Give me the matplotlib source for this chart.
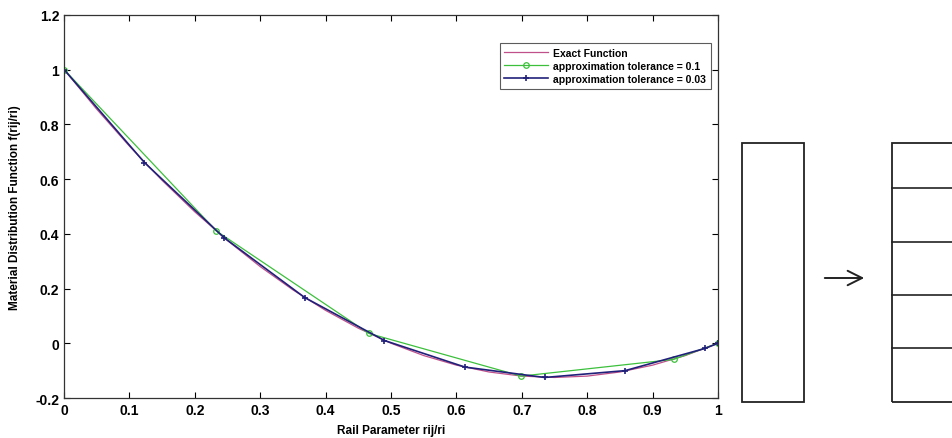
import matplotlib
matplotlib.use("Agg")
import matplotlib.pyplot as plt
from matplotlib.patches import Rectangle, FancyArrowPatch
from matplotlib.ticker import FuncFormatter

plt.rcParams['font.family'] = ['Liberation Sans', 'DejaVu Sans']
plt.rcParams['font.weight'] = 'bold'

# exact function
exact_x = [0.0, 0.05, 0.1, 0.15, 0.2, 0.25, 0.3, 0.35, 0.4, 0.45, 0.5,
           0.55, 0.6, 0.65, 0.7, 0.75, 0.8, 0.85, 0.9, 0.95, 1.0]
exact_y = [1.0, 0.855, 0.72, 0.595, 0.48, 0.375, 0.28, 0.195, 0.12, 0.055, 0.0,
           -0.045, -0.08, -0.105, -0.12, -0.125, -0.12, -0.105, -0.08, -0.045, 0.0]

# tolerance 0.1
tol1_x = [0.0, 0.233, 0.466, 0.699, 0.932, 1.0]
tol1_y = [1.0, 0.41, 0.036, -0.12, -0.059, 0.0]

# tolerance 0.03
tol2_x = [0.0, 0.123, 0.245, 0.368, 0.49, 0.613, 0.735, 0.858, 0.98, 1.0]
tol2_y = [1.0, 0.66, 0.385, 0.167, 0.01, -0.087, -0.125, -0.10, -0.019, 0.0]

fig = plt.figure(figsize=(9.53, 4.39), dpi=100)
ax = fig.add_axes([0.0672, 0.0911, 0.6862, 0.873])

ax.plot(exact_x, exact_y, color='#c0508a', lw=0.9, label='Exact Function')
ax.plot(tol1_x, tol1_y, color='#3cc03c', lw=0.9, marker='o', ms=4,
        mfc='none', mew=0.9, label='approximation tolerance = 0.1')
ax.plot(tol2_x, tol2_y, color='#20207a', lw=1.2, marker='+', ms=5,
        mew=1.2, label='approximation tolerance = 0.03')

ax.set_xlim(0, 1)
ax.set_ylim(-0.2, 1.2)
ax.set_xticks([0, 0.1, 0.2, 0.3, 0.4, 0.5, 0.6, 0.7, 0.8, 0.9, 1])
ax.set_yticks([-0.2, 0, 0.2, 0.4, 0.6, 0.8, 1, 1.2])
ax.xaxis.set_major_formatter(FuncFormatter(lambda v, p: '%g' % round(v, 2)))
ax.yaxis.set_major_formatter(FuncFormatter(lambda v, p: '%g' % round(v, 2)))
ax.tick_params(direction='in', top=True, right=True, length=4, width=0.8,
               labelsize=10)
for s in ax.spines.values():
    s.set_linewidth(0.9)
    s.set_color('#333333')

ax.set_xlabel('Rail Parameter rij/ri', fontsize=8.5, fontweight='bold', labelpad=5)
ax.set_ylabel('Material Distribution Function f(rij/ri)', fontsize=8.5,
              fontweight='bold', labelpad=10)

leg = ax.legend(loc='upper right', bbox_to_anchor=(0.997, 0.94), fontsize=7.5,
                frameon=True, fancybox=False, edgecolor='#333333',
                borderpad=0.45, labelspacing=0.3, handlelength=4.2,
                handletextpad=0.5)
leg.get_frame().set_linewidth(0.8)
for t in leg.get_texts():
    t.set_fontweight('bold')

# schematic on the right: single rail -> segmented rail
W, H = 953.0, 439.0
def fx(px):
    return px / W
def fy(py):
    return 1 - py / H

fig.patches.append(Rectangle((fx(742), fy(403)), fx(804) - fx(742), fy(144) - fy(403),
                             transform=fig.transFigure, fill=False, lw=1.3,
                             edgecolor='#222222'))
fig.patches.append(Rectangle((fx(892), fy(403)), fx(975) - fx(892), fy(144) - fy(403),
                             transform=fig.transFigure, fill=False, lw=1.3,
                             edgecolor='#222222'))
for py in [189, 243, 296, 349]:
    fig.lines.append(plt.Line2D([fx(892), 1.0], [fy(py), fy(py)],
                                transform=fig.transFigure, lw=1.2, color='#222222'))
fig.patches.append(FancyArrowPatch((fx(822), fy(279)), (fx(867), fy(279)),
                                   transform=fig.transFigure, arrowstyle='->',
                                   mutation_scale=26, lw=1.4, color='#222222'))

fig.savefig('out.png', dpi=100)
